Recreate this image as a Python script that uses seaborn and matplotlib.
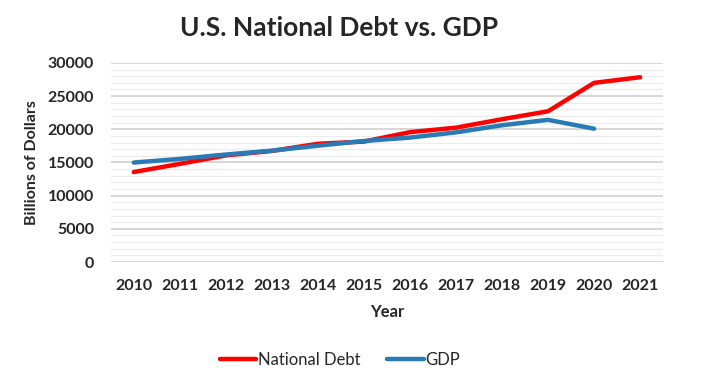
import numpy as np
import pandas as pd
import matplotlib
matplotlib.use("Agg")
import matplotlib.pyplot as plt
import seaborn as sns
from matplotlib.ticker import MultipleLocator

years = [2010, 2011, 2012, 2013, 2014, 2015, 2016, 2017, 2018, 2019, 2020, 2021]
national_debt = [13560, 14790, 16070, 16740, 17820, 18150, 19570, 20250, 21520, 22720, 27000, 27850]
gdp = [14990, 15540, 16200, 16780, 17530, 18240, 18750, 19540, 20610, 21430, 20090]

df = pd.concat([
    pd.DataFrame({"Year": years, "Value": national_debt, "Series": "National Debt"}),
    pd.DataFrame({"Year": years[:len(gdp)], "Value": gdp, "Series": "GDP"}),
])

sns.set_style("white")
plt.rcParams["font.family"] = ["Lato", "DejaVu Sans"]

fig = plt.figure(figsize=(7.01, 3.77), dpi=100)
ax = fig.add_axes([0.158, 0.305, 0.788, 0.528])

sns.lineplot(data=df, x="Year", y="Value", hue="Series",
             palette={"National Debt": "#FF0000", "GDP": "#2A7AB5"},
             linewidth=3.2, ax=ax, legend=False)

ax.set_xlim(2009.5, 2021.5)
ax.set_ylim(0, 30000)
ax.set_xticks(years)
ax.set_xticklabels([str(y) for y in years], fontweight="bold", fontsize=11.5)
ax.yaxis.set_major_locator(MultipleLocator(5000))
ax.yaxis.set_minor_locator(MultipleLocator(1000))
for t in ax.get_yticklabels():
    t.set_fontweight("bold")
    t.set_fontsize(11.5)
ax.grid(axis="y", which="major", color="#D0D0D0", linewidth=1.2)
ax.grid(axis="y", which="minor", color="#ECECEC", linewidth=0.9)
ax.set_axisbelow(True)
ax.tick_params(axis="both", length=0, pad=12)
ax.tick_params(axis="y", pad=12)
for s in ax.spines.values():
    s.set_visible(False)

ax.set_xlabel("Year", fontweight="bold", fontsize=12, labelpad=8)
ax.set_ylabel("Billions of Dollars", fontweight="bold", fontsize=11.5, labelpad=6)

fig.text(0.484, 0.925, "U.S. National Debt vs. GDP", ha="center", va="center",
         fontsize=19, fontweight="bold")

handles = [plt.Line2D([0], [0], color="#FF0000", lw=3.2),
           plt.Line2D([0], [0], color="#2A7AB5", lw=3.2)]
fig.legend(handles, ["National Debt", "GDP"], loc="center", bbox_to_anchor=(0.485, 0.045),
           ncol=2, frameon=False, fontsize=12, handlelength=2.2, handletextpad=0.1,
           columnspacing=1.6)

fig.savefig("out.png", dpi=100)
